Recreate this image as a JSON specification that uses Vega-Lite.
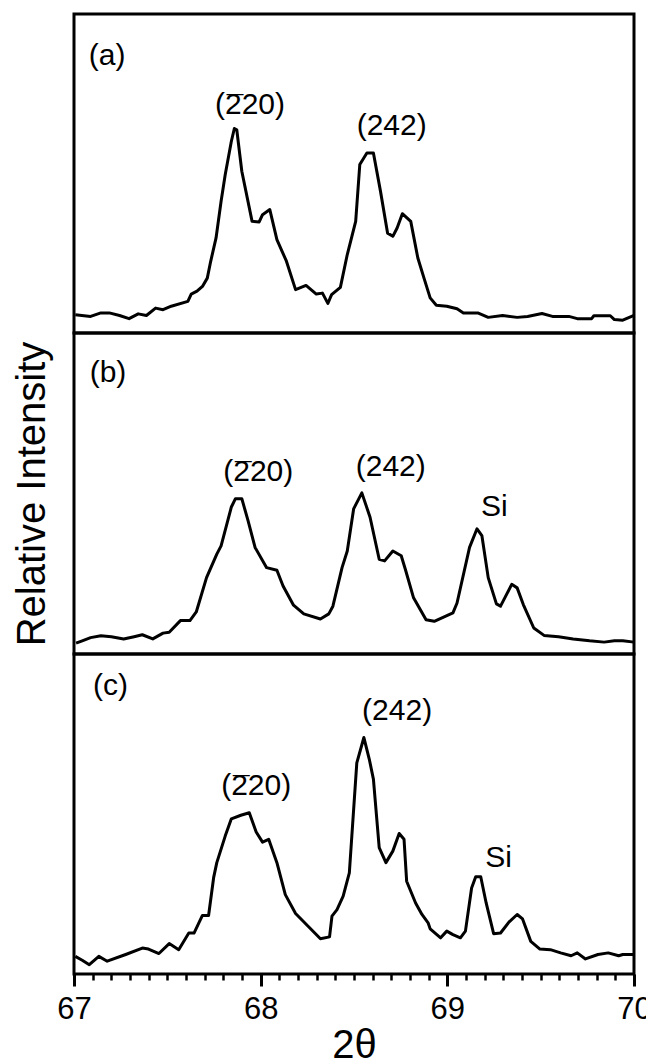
{
  "$schema": "https://vega.github.io/schema/vega-lite/v6.json",
  "padding": {"left": 10, "top": 12, "right": 12, "bottom": 0},
  "bounds": "flush",
  "spacing": 0,
  "config": {
    "view": {"stroke": "black", "strokeWidth": 3},
    "concat": {"spacing": 0},
    "font": "Liberation Sans",
    "axis": {"grid": false, "labelColor": "black", "titleColor": "black", "tickColor": "black", "titleFontWeight": "normal", "labelFont": "Liberation Sans", "titleFont": "Liberation Sans"}
  },
  "datasets": {
    "s": [
      {"p":"a","t":67.007,"i":5.7},{"p":"a","t":67.089,"i":5.2},{"p":"a","t":67.144,"i":6.3},{"p":"a","t":67.189,"i":6.3},{"p":"a","t":67.244,"i":5.5},{"p":"a","t":67.295,"i":4.5},{"p":"a","t":67.344,"i":6.0},{"p":"a","t":67.388,"i":5.5},{"p":"a","t":67.437,"i":7.8},{"p":"a","t":67.477,"i":7.3},{"p":"a","t":67.521,"i":8.4},{"p":"a","t":67.61,"i":9.9},{"p":"a","t":67.628,"i":12.2},{"p":"a","t":67.659,"i":13.1},{"p":"a","t":67.688,"i":14.6},{"p":"a","t":67.714,"i":17.2},{"p":"a","t":67.732,"i":22.4},{"p":"a","t":67.761,"i":29.8},{"p":"a","t":67.788,"i":41.3},{"p":"a","t":67.81,"i":49.6},{"p":"a","t":67.843,"i":60.1},{"p":"a","t":67.859,"i":64.1},{"p":"a","t":67.872,"i":63.7},{"p":"a","t":67.899,"i":50.7},{"p":"a","t":67.954,"i":35.0},{"p":"a","t":67.992,"i":34.8},{"p":"a","t":68.01,"i":37.1},{"p":"a","t":68.049,"i":38.7},{"p":"a","t":68.087,"i":29.3},{"p":"a","t":68.138,"i":22.5},{"p":"a","t":68.187,"i":13.6},{"p":"a","t":68.243,"i":14.9},{"p":"a","t":68.298,"i":12.2},{"p":"a","t":68.331,"i":12.5},{"p":"a","t":68.36,"i":9.3},{"p":"a","t":68.38,"i":12.0},{"p":"a","t":68.427,"i":14.3},{"p":"a","t":68.464,"i":24.6},{"p":"a","t":68.509,"i":35.0},{"p":"a","t":68.531,"i":52.8},{"p":"a","t":68.569,"i":56.4},{"p":"a","t":68.604,"i":56.4},{"p":"a","t":68.642,"i":44.4},{"p":"a","t":68.68,"i":31.3},{"p":"a","t":68.708,"i":30.3},{"p":"a","t":68.731,"i":32.9},{"p":"a","t":68.759,"i":37.4},{"p":"a","t":68.804,"i":35.0},{"p":"a","t":68.842,"i":23.5},{"p":"a","t":68.875,"i":17.2},{"p":"a","t":68.908,"i":11.0},{"p":"a","t":68.941,"i":8.7},{"p":"a","t":68.997,"i":8.4},{"p":"a","t":69.052,"i":7.6},{"p":"a","t":69.086,"i":6.3},{"p":"a","t":69.163,"i":6.3},{"p":"a","t":69.219,"i":4.9},{"p":"a","t":69.296,"i":5.5},{"p":"a","t":69.374,"i":4.9},{"p":"a","t":69.43,"i":5.2},{"p":"a","t":69.507,"i":6.1},{"p":"a","t":69.563,"i":5.2},{"p":"a","t":69.651,"i":5.2},{"p":"a","t":69.696,"i":4.5},{"p":"a","t":69.773,"i":4.5},{"p":"a","t":69.785,"i":5.4},{"p":"a","t":69.873,"i":5.4},{"p":"a","t":69.895,"i":4.2},{"p":"a","t":69.94,"i":4.0},{"p":"a","t":70.0,"i":5.5},
      {"p":"b","t":67.011,"i":3.4},{"p":"b","t":67.044,"i":4.1},{"p":"b","t":67.089,"i":5.1},{"p":"b","t":67.144,"i":5.7},{"p":"b","t":67.2,"i":5.4},{"p":"b","t":67.266,"i":4.7},{"p":"b","t":67.322,"i":5.4},{"p":"b","t":67.366,"i":6.0},{"p":"b","t":67.422,"i":4.7},{"p":"b","t":67.477,"i":6.5},{"p":"b","t":67.51,"i":6.8},{"p":"b","t":67.57,"i":10.4},{"p":"b","t":67.621,"i":10.4},{"p":"b","t":67.655,"i":13.1},{"p":"b","t":67.71,"i":23.8},{"p":"b","t":67.765,"i":31.1},{"p":"b","t":67.788,"i":33.7},{"p":"b","t":67.843,"i":45.8},{"p":"b","t":67.865,"i":48.4},{"p":"b","t":67.899,"i":48.4},{"p":"b","t":67.932,"i":41.6},{"p":"b","t":67.97,"i":33.2},{"p":"b","t":68.032,"i":26.9},{"p":"b","t":68.087,"i":26.1},{"p":"b","t":68.12,"i":21.2},{"p":"b","t":68.176,"i":15.2},{"p":"b","t":68.231,"i":12.5},{"p":"b","t":68.32,"i":10.9},{"p":"b","t":68.365,"i":12.5},{"p":"b","t":68.387,"i":14.9},{"p":"b","t":68.436,"i":26.9},{"p":"b","t":68.464,"i":32.1},{"p":"b","t":68.498,"i":45.2},{"p":"b","t":68.542,"i":50.2},{"p":"b","t":68.586,"i":42.6},{"p":"b","t":68.635,"i":29.5},{"p":"b","t":68.664,"i":29.0},{"p":"b","t":68.708,"i":32.1},{"p":"b","t":68.753,"i":30.6},{"p":"b","t":68.775,"i":26.4},{"p":"b","t":68.819,"i":17.5},{"p":"b","t":68.886,"i":10.7},{"p":"b","t":68.93,"i":10.2},{"p":"b","t":69.03,"i":12.8},{"p":"b","t":69.052,"i":15.9},{"p":"b","t":69.119,"i":33.2},{"p":"b","t":69.159,"i":39.0},{"p":"b","t":69.185,"i":36.9},{"p":"b","t":69.219,"i":23.8},{"p":"b","t":69.263,"i":15.6},{"p":"b","t":69.285,"i":14.9},{"p":"b","t":69.345,"i":21.7},{"p":"b","t":69.374,"i":20.6},{"p":"b","t":69.407,"i":15.4},{"p":"b","t":69.463,"i":8.1},{"p":"b","t":69.518,"i":5.8},{"p":"b","t":69.596,"i":5.4},{"p":"b","t":69.674,"i":4.7},{"p":"b","t":69.762,"i":4.1},{"p":"b","t":69.84,"i":3.7},{"p":"b","t":69.895,"i":4.1},{"p":"b","t":69.94,"i":4.1},{"p":"b","t":70.0,"i":3.7},
      {"p":"c","t":67.007,"i":5.5},{"p":"c","t":67.044,"i":4.3},{"p":"c","t":67.082,"i":2.9},{"p":"c","t":67.133,"i":5.5},{"p":"c","t":67.178,"i":4.0},{"p":"c","t":67.277,"i":6.1},{"p":"c","t":67.366,"i":8.1},{"p":"c","t":67.399,"i":7.8},{"p":"c","t":67.455,"i":6.4},{"p":"c","t":67.51,"i":9.5},{"p":"c","t":67.561,"i":7.6},{"p":"c","t":67.615,"i":12.8},{"p":"c","t":67.643,"i":12.8},{"p":"c","t":67.688,"i":18.3},{"p":"c","t":67.721,"i":18.3},{"p":"c","t":67.748,"i":30.1},{"p":"c","t":67.765,"i":34.8},{"p":"c","t":67.81,"i":43.1},{"p":"c","t":67.843,"i":48.5},{"p":"c","t":67.894,"i":49.6},{"p":"c","t":67.939,"i":50.4},{"p":"c","t":67.976,"i":44.4},{"p":"c","t":68.01,"i":41.2},{"p":"c","t":68.043,"i":42.1},{"p":"c","t":68.087,"i":34.8},{"p":"c","t":68.132,"i":24.8},{"p":"c","t":68.187,"i":18.9},{"p":"c","t":68.32,"i":11.0},{"p":"c","t":68.369,"i":11.6},{"p":"c","t":68.382,"i":18.1},{"p":"c","t":68.409,"i":20.1},{"p":"c","t":68.442,"i":24.3},{"p":"c","t":68.475,"i":31.6},{"p":"c","t":68.515,"i":66.0},{"p":"c","t":68.553,"i":73.9},{"p":"c","t":68.582,"i":67.1},{"p":"c","t":68.604,"i":60.9},{"p":"c","t":68.635,"i":39.5},{"p":"c","t":68.671,"i":34.8},{"p":"c","t":68.708,"i":38.4},{"p":"c","t":68.742,"i":43.9},{"p":"c","t":68.768,"i":42.1},{"p":"c","t":68.782,"i":29.0},{"p":"c","t":68.83,"i":22.2},{"p":"c","t":68.864,"i":18.6},{"p":"c","t":68.897,"i":16.0},{"p":"c","t":68.908,"i":14.1},{"p":"c","t":68.964,"i":11.3},{"p":"c","t":68.997,"i":13.4},{"p":"c","t":69.03,"i":12.3},{"p":"c","t":69.07,"i":11.3},{"p":"c","t":69.097,"i":13.4},{"p":"c","t":69.13,"i":26.9},{"p":"c","t":69.152,"i":30.4},{"p":"c","t":69.179,"i":30.4},{"p":"c","t":69.208,"i":22.2},{"p":"c","t":69.248,"i":12.6},{"p":"c","t":69.285,"i":12.8},{"p":"c","t":69.33,"i":16.2},{"p":"c","t":69.374,"i":18.6},{"p":"c","t":69.403,"i":17.2},{"p":"c","t":69.447,"i":10.2},{"p":"c","t":69.496,"i":7.8},{"p":"c","t":69.552,"i":7.6},{"p":"c","t":69.607,"i":6.6},{"p":"c","t":69.663,"i":5.7},{"p":"c","t":69.696,"i":6.6},{"p":"c","t":69.74,"i":4.7},{"p":"c","t":69.807,"i":6.1},{"p":"c","t":69.862,"i":6.6},{"p":"c","t":69.918,"i":5.7},{"p":"c","t":69.94,"i":6.1},{"p":"c","t":70.0,"i":6.1}
    ],
    "lab": [
      {"p":"a","t":67.177,"i":86.7,"s":"(a)","bar":false},
      {"p":"a","t":67.943,"i":71.6,"s":"(220)","bar":true},
      {"p":"a","t":68.702,"i":64.8,"s":"(242)","bar":false},
      {"p":"b","t":67.182,"i":87.6,"s":"(b)","bar":false},
      {"p":"b","t":67.987,"i":56.8,"s":"(220)","bar":true},
      {"p":"b","t":68.697,"i":58.3,"s":"(242)","bar":false},
      {"p":"b","t":69.252,"i":45.8,"s":"Si","bar":false},
      {"p":"c","t":67.196,"i":90.1,"s":"(c)","bar":false},
      {"p":"c","t":67.976,"i":58.8,"s":"(220)","bar":true},
      {"p":"c","t":68.731,"i":82.3,"s":"(242)","bar":false},
      {"p":"c","t":69.274,"i":36.3,"s":"Si","bar":false}
    ]
  },
  "vconcat": [
    {
      "width": 560, "height": 319,
      "layer": [
        {"data": {"name": "s"}, "transform": [{"filter": "datum.p == 'a'"}],
         "mark": {"type": "line", "color": "black", "strokeWidth": 3, "strokeJoin": "round"},
         "encoding": {
           "x": {"field": "t", "type": "quantitative", "scale": {"domain": [67, 70]}, "axis": null},
           "y": {"field": "i", "type": "quantitative", "scale": {"domain": [0, 100]}, "axis": null}}},
        {"data": {"name": "lab"}, "transform": [{"filter": "datum.p == 'a'"}],
         "mark": {"type": "text", "fontSize": 30, "font": "Liberation Sans", "color": "black", "align": "center", "baseline": "middle"},
         "encoding": {
           "x": {"field": "t", "type": "quantitative", "scale": {"domain": [67, 70]}, "axis": null},
           "y": {"field": "i", "type": "quantitative", "scale": {"domain": [0, 100]}, "axis": null},
           "text": {"field": "s"}}},
        {"data": {"name": "lab"}, "transform": [{"filter": "datum.p == 'a' && datum.bar"}],
         "mark": {"type": "text", "text": "\u00af", "fontSize": 30, "font": "Liberation Sans", "color": "black", "align": "center", "baseline": "middle", "dx": -15, "dy": 2},
         "encoding": {
           "x": {"field": "t", "type": "quantitative", "scale": {"domain": [67, 70]}, "axis": null},
           "y": {"field": "i", "type": "quantitative", "scale": {"domain": [0, 100]}, "axis": null}}}
      ]
    },
    {
      "width": 560, "height": 321,
      "layer": [
        {"data": {"name": "s"}, "transform": [{"filter": "datum.p == 'b'"}],
         "mark": {"type": "line", "color": "black", "strokeWidth": 3, "strokeJoin": "round"},
         "encoding": {
           "x": {"field": "t", "type": "quantitative", "scale": {"domain": [67, 70]}, "axis": null},
           "y": {"field": "i", "type": "quantitative", "scale": {"domain": [0, 100]},
                 "axis": {"title": "Relative Intensity", "titleFontSize": 40, "labels": false, "ticks": false, "domain": false, "grid": false, "titlePadding": 22}}}},
        {"data": {"name": "lab"}, "transform": [{"filter": "datum.p == 'b'"}],
         "mark": {"type": "text", "fontSize": 30, "font": "Liberation Sans", "color": "black", "align": "center", "baseline": "middle"},
         "encoding": {
           "x": {"field": "t", "type": "quantitative", "scale": {"domain": [67, 70]}, "axis": null},
           "y": {"field": "i", "type": "quantitative", "scale": {"domain": [0, 100]}},
           "text": {"field": "s"}}},
        {"data": {"name": "lab"}, "transform": [{"filter": "datum.p == 'b' && datum.bar"}],
         "mark": {"type": "text", "text": "\u00af", "fontSize": 30, "font": "Liberation Sans", "color": "black", "align": "center", "baseline": "middle", "dx": -15, "dy": 2},
         "encoding": {
           "x": {"field": "t", "type": "quantitative", "scale": {"domain": [67, 70]}, "axis": null},
           "y": {"field": "i", "type": "quantitative", "scale": {"domain": [0, 100]}}}}
      ]
    },
    {
      "width": 560, "height": 320,
      "layer": [
        {"data": {"name": "s"}, "transform": [{"filter": "datum.p == 'c'"}],
         "mark": {"type": "line", "color": "black", "strokeWidth": 3, "strokeJoin": "round"},
         "encoding": {
           "x": {"field": "t", "type": "quantitative", "scale": {"domain": [67, 70]},
                 "axis": {"orient": "bottom", "title": "2θ", "titleFontSize": 40, "titlePadding": 1,
                          "values": [67,67.1,67.2,67.3,67.4,67.5,67.6,67.7,67.8,67.9,68,68.1,68.2,68.3,68.4,68.5,68.6,68.7,68.8,68.9,69,69.1,69.2,69.3,69.4,69.5,69.6,69.7,69.8,69.9,70],
                          "tickCount": 100,
                          "labelExpr": "datum.value == round(datum.value) ? format(datum.value, 'd') : ''",
                          "labelFontSize": 31, "labelPadding": 8,
                          "tickSize": {"condition": {"test": "datum.value == round(datum.value)", "value": 12}, "value": 6},
                          "tickWidth": {"condition": {"test": "datum.value == round(datum.value)", "value": 3}, "value": 2.5},
                          "domain": false, "grid": false, "labelFlush": false, "labelOverlap": false}},
           "y": {"field": "i", "type": "quantitative", "scale": {"domain": [0, 100]}, "axis": null}}},
        {"data": {"name": "lab"}, "transform": [{"filter": "datum.p == 'c'"}],
         "mark": {"type": "text", "fontSize": 30, "font": "Liberation Sans", "color": "black", "align": "center", "baseline": "middle"},
         "encoding": {
           "x": {"field": "t", "type": "quantitative", "scale": {"domain": [67, 70]}},
           "y": {"field": "i", "type": "quantitative", "scale": {"domain": [0, 100]}, "axis": null},
           "text": {"field": "s"}}},
        {"data": {"name": "lab"}, "transform": [{"filter": "datum.p == 'c' && datum.bar"}],
         "mark": {"type": "text", "text": "\u00af", "fontSize": 30, "font": "Liberation Sans", "color": "black", "align": "center", "baseline": "middle", "dx": -15, "dy": 2},
         "encoding": {
           "x": {"field": "t", "type": "quantitative", "scale": {"domain": [67, 70]}},
           "y": {"field": "i", "type": "quantitative", "scale": {"domain": [0, 100]}, "axis": null}}}
      ]
    }
  ]
}
